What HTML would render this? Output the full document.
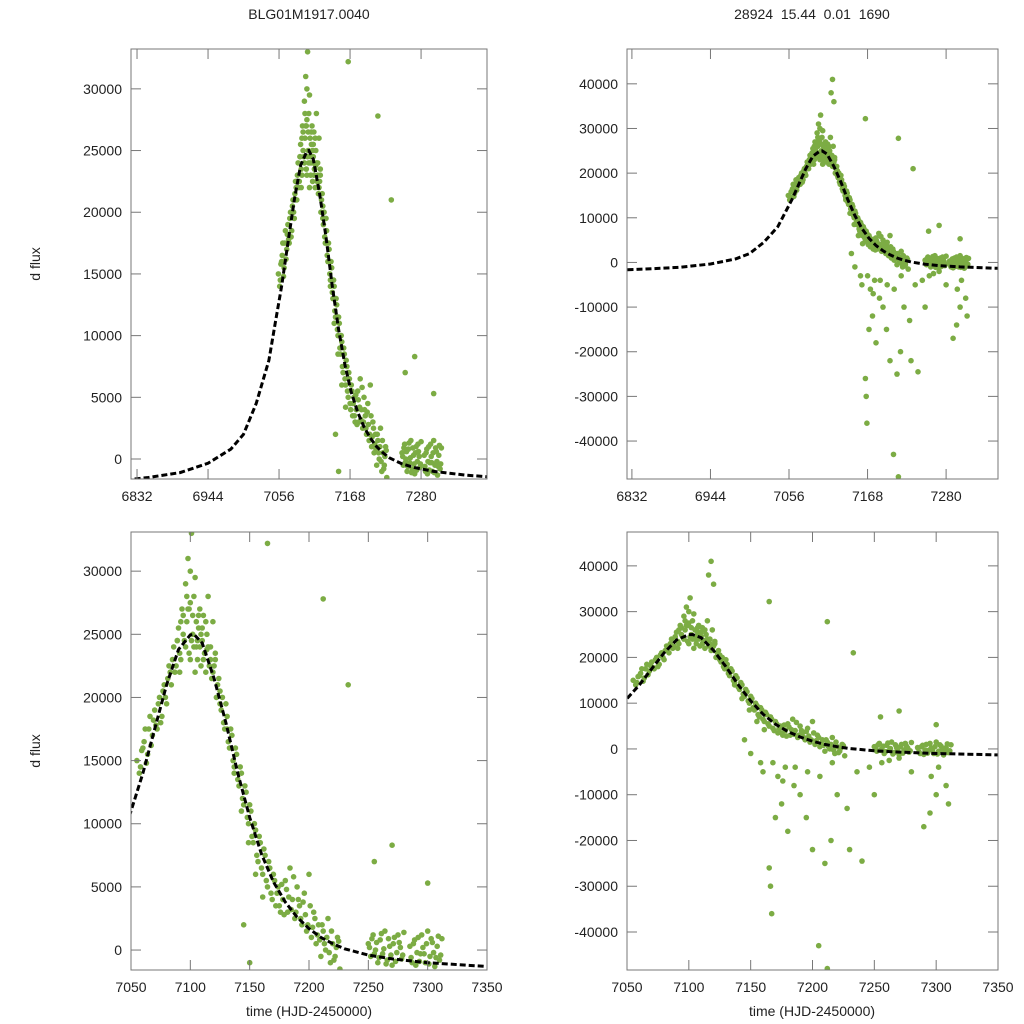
<!DOCTYPE html>
<html><head><meta charset="utf-8"><style>
html,body{margin:0;background:#fff;overflow:hidden;width:1024px;height:1024px;}
svg{display:block;font-family:"Liberation Sans",sans-serif;}
</style></head><body>
<svg id="chart" width="1024" height="1024" viewBox="0 0 1024 1024" xmlns="http://www.w3.org/2000/svg">
<rect width="1024" height="1024" fill="#fff"/>
<text x="309" y="19" font-size="14" text-anchor="middle" fill="#222">BLG01M1917.0040</text>
<text x="812" y="19" font-size="14" text-anchor="middle" fill="#222" xml:space="preserve">28924  15.44  0.01  1690</text>
<text transform="translate(40,264) rotate(-90)" font-size="14" text-anchor="middle" fill="#222">d flux</text>
<text transform="translate(40,751) rotate(-90)" font-size="14" text-anchor="middle" fill="#222">d flux</text>
<text x="309" y="1016" font-size="14" text-anchor="middle" fill="#222">time (HJD-2450000)</text>
<text x="812" y="1016" font-size="14" text-anchor="middle" fill="#222">time (HJD-2450000)</text>
</svg>
<script>
// observed photometry
const obsTime=[7055,7058,7060,7062,7064,7066,7068,7070,7072,7074,7076,7078,7080,7082,7084,7086,7088,7090,7092,7093,7095,7096,7097,7098,7099,7100,7101,7102,7103,7104,7105,7106,7107,7108,7109,7110,7111,7112,7113,7114,7115,7116,7117,7118,7119,7120,7122,7124,7126,7128,7130,7132,7134,7136,7138,7140,7142,7144,7146,7148,7150,7152,7154,7156,7158,7160,7162,7164,7166,7168,7170,7172,7174,7176,7178,
7165,7166,7167,7170,7175,7180,7190,7200,7205,7212,7215,7210,7230,7240,7250,7290,7295,7300,7310,7185,7195,7220,7228,
7118,7116,7120,7165,7212,7233,7255,7270,7300,7145,7158,7172,7178,
7180,7182,7184,7186,7188,7190,7192,7194,7196,7198,7200,7202,7204,7206,7208,7210,7212,7214,7216,7218,7220,7222,7224,7226,
7250,7252,7254,7256,7258,7260,7262,7264,7266,7268,7270,7272,7274,7276,7278,7280,
7286,7288,7290,7292,7294,7296,7298,7300,7302,7304,7306,7308,7310,7312,
7094,7098,7102,7106,7110,7114,7100,7104,7108,7112,7091,7089,7121,7125,7131,7137,7143,7149,7155,7161];
const obsFlux=[15000,14500,16000,17500,15500,18500,17000,19000,17500,20000,18500,21000,19500,22500,21000,24000,22500,25500,23000,27000,24500,29000,26000,31000,23500,27500,33000,25000,24000,29500,26000,23000,25500,27000,22500,24500,26500,23500,22000,25000,28000,22500,24000,21500,26000,22500,20000,21500,19000,18000,19500,16500,17500,15000,16000,13500,14500,12000,13000,10500,11500,9000,10000,7500,9000,6500,8000,5500,7000,4500,6000,3500,5000,3000,4000,
-26000,-30000,-36000,-15000,-12000,-18000,-10000,-22000,-43000,-48000,-20000,-25000,-22000,-24500,-10000,-17000,-14000,-10000,-12000,-8000,-15000,-10000,-13000,
41000,38000,36000,32200,27800,21000,7000,8300,5300,2000,-3000,-6000,-4000,
5500,3000,6500,4000,2500,5000,3500,2000,4500,1500,6000,1000,3000,500,2000,-500,1500,0,2500,-1000,500,-500,1000,-1500,
500,-500,1200,0,-1000,800,-300,1500,-800,300,-1200,1000,-200,600,-700,1400,
-600,500,-1200,1000,-300,200,-1000,1500,-500,600,-1300,300,-800,900,
25000,27000,26500,24500,25500,23800,23000,22000,24000,23500,22000,24500,23000,20500,17500,14000,11000,8500,6000,4200];
// additional observations
const obsTime2=[7057,7059,7061,7063,7065,7067,7069,7071,7073,7075,7077,7079,7081,7083,7085,7087,7089,7091,7092,7094,7096,7097,7099,7100,7101,7103,7105,7107,7109,7111,7113,7115,7117,7119,7121,7123,7125,7127,7129,7131,7133,7135,7137,7139,7141,7143,7145,7147,7149,7151,7153,7155,7157,7159,7161,7163,7165,7167,7169,7171,7173,7175,7177,7179,7181,7183,7185,7187,7189,7191,7193,7195,7197,7199,7201,7203,7205,7207,7209,7211,7213,7215,7217,7219,7221,7223,7225,
7251,7253,7255,7257,7259,7261,7263,7265,7267,7269,7271,7273,7275,7277,7279,
7285,7287,7289,7291,7293,7295,7297,7299,7301,7303,7305,7307,7309,7311,
7150,7160,7168,7176,7186,7196,7206,7216,7236,7246,7256,7280,7296,7302,7308,7262,7270];
const obsFlux2=[14000,15800,16500,14800,17500,16200,18200,17800,19500,18000,20500,20000,21500,22000,23000,22000,24500,23500,26000,26500,24000,28000,27000,30000,24500,28000,24000,26500,25000,23000,26000,24000,23000,22000,23500,21000,19500,20000,17500,18500,16000,17000,14500,15500,13000,14000,11500,12500,10000,11000,8500,9500,7000,8500,6000,7500,5000,6500,4000,5500,4500,3500,5200,2800,4800,4200,3200,5800,3000,4000,2500,3800,2800,2000,3500,1800,2500,1200,800,2000,500,1000,-200,1500,-800,200,700,
200,900,-300,600,-600,1300,100,-1100,900,-400,500,-900,1200,200,-400,
300,-1000,800,-200,-900,1200,-300,500,-1100,900,-200,-600,1100,-400,
-1000,-5000,-3000,-7000,-4000,-5000,-6000,-3000,-5000,-4000,-3000,-5000,-6000,-4000,-8000,-2500,-2000];
// fitted model
const modelTime=[6800,6822,6850,6900,6944,6980,7000,7020,7040,7050,7060,7070,7080,7090,7100,7103,7110,7120,7130,7140,7150,7160,7170,7180,7190,7200,7210,7220,7230,7250,7270,7300,7350,7400];
const modelFlux=[-1750,-1650,-1500,-1100,-350,800,2000,4500,8000,11000,14000,17500,21000,23800,24950,25000,24300,21500,18000,14000,10500,7600,5400,3800,2600,1700,1000,500,100,-400,-700,-1000,-1300,-1500];
const topXTicks=[6832,6944,7056,7168,7280];
const bottomXTicks=[7050,7100,7150,7200,7250,7300,7350];
const leftYTicks=[0,5000,10000,15000,20000,25000,30000];
const rightYTicks=[-40000,-30000,-20000,-10000,0,10000,20000,30000,40000];

const allTime=obsTime.concat(obsTime2);
const allFlux=obsFlux.concat(obsFlux2);
const NS='http://www.w3.org/2000/svg';
const svg=document.getElementById('chart');
const panels=[
 {id:'top-left',x0:131,x1:487,y0:49,y1:479,t0:6822.5,t1:7384,f0:-1620,f1:33230,xt:topXTicks,yt:leftYTicks},
 {id:'top-right',x0:627,x1:998,y0:49,y1:479,t0:6825,t1:7354,f0:-48500,f1:47800,xt:topXTicks,yt:rightYTicks},
 {id:'bottom-left',x0:131,x1:487,y0:532,y1:970,t0:7050,t1:7350,f0:-1580,f1:33100,xt:bottomXTicks,yt:leftYTicks},
 {id:'bottom-right',x0:627,x1:998,y0:532,y1:970,t0:7050,t1:7350,f0:-48300,f1:47400,xt:bottomXTicks,yt:rightYTicks}
];
function mk(tag,attrs,parent){const e=document.createElementNS(NS,tag);for(const k in attrs)e.setAttribute(k,attrs[k]);(parent||svg).appendChild(e);return e;}
panels.forEach((p,i)=>{
 const xs=t=>p.x0+(t-p.t0)/(p.t1-p.t0)*(p.x1-p.x0);
 const ys=f=>p.y1-(f-p.f0)/(p.f1-p.f0)*(p.y1-p.y0);
 const g=mk('g',{});
 
 
 const cp=mk('clipPath',{id:'clip'+i},g);
 mk('rect',{x:p.x0,y:p.y0,width:p.x1-p.x0,height:p.y1-p.y0},cp);
 const pts=mk('g',{'clip-path':'url(#clip'+i+')'},g);
 
 
 for(let k=0;k<allTime.length;k++){
  const c=mk('circle',{cx:xs(allTime[k]).toFixed(1),cy:ys(allFlux[k]).toFixed(1),r:2.8,fill:'#7cac44'},pts);
  
  
 }
 const d=modelTime.map((t,k)=>(k?'L':'M')+xs(t).toFixed(1)+','+ys(modelFlux[k]).toFixed(1)).join(' ');
 const path=mk('path',{d:d,fill:'none',stroke:'#000','stroke-width':3,'stroke-dasharray':'6,3','clip-path':'url(#clip'+i+')'},g);
 
 
 const fr=mk('rect',{x:p.x0,y:p.y0,width:p.x1-p.x0,height:p.y1-p.y0,fill:'none',stroke:'#777','stroke-width':1},g);
 
 
 p.xt.forEach(t=>{
  const x=xs(t);
  mk('line',{x1:x,x2:x,y1:p.y1,y2:p.y1-10,stroke:'#777'},g);
  mk('line',{x1:x,x2:x,y1:p.y0,y2:p.y0+10,stroke:'#777'},g);
  const tx=mk('text',{x:x,y:p.y1+22,'font-size':14,'text-anchor':'middle',fill:'#222'},g);
  tx.textContent=t;
  
  
 });
 p.yt.forEach(f=>{
  const y=ys(f);
  mk('line',{x1:p.x0,x2:p.x0+10,y1:y,y2:y,stroke:'#777'},g);
  mk('line',{x1:p.x1,x2:p.x1-10,y1:y,y2:y,stroke:'#777'},g);
  const tx=mk('text',{x:p.x0-9,y:y+5,'font-size':14,'text-anchor':'end',fill:'#222'},g);
  tx.textContent=f;
  
  
 });
});
</script>
</body></html>
